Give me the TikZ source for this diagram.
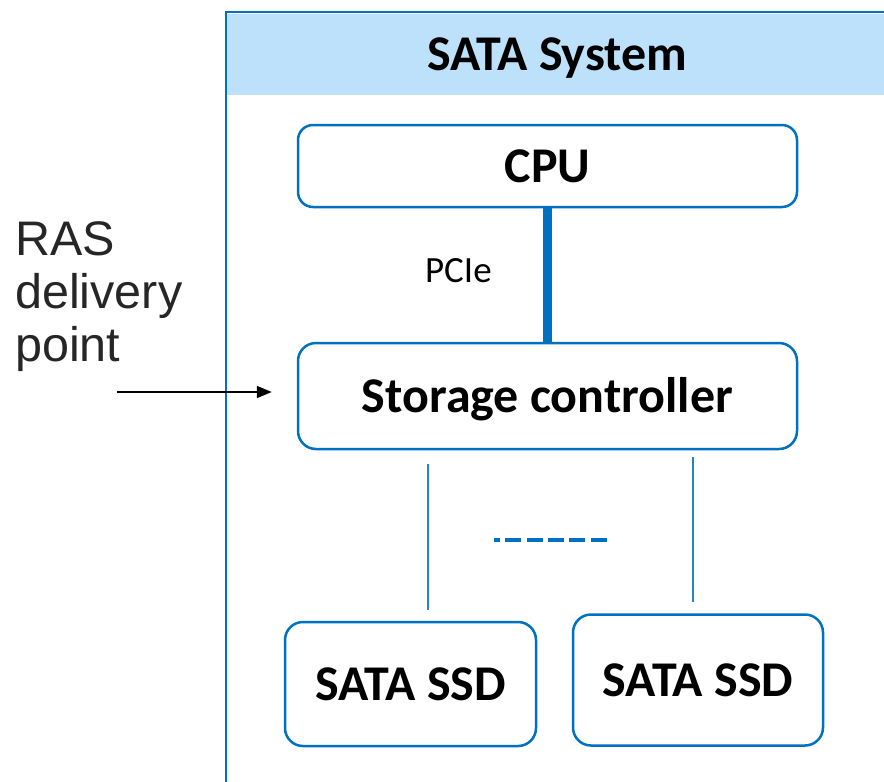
\documentclass[tikz,border=0pt]{standalone}
\usepackage{fontspec}
\setmainfont{Carlito}
\newfontfamily\rasfont{Liberation Sans}
\usetikzlibrary{arrows.meta, positioning}
\definecolor{sysblue}{HTML}{0070C0}
\definecolor{hdrbg}{HTML}{BDE0FB}
\definecolor{inkgray}{HTML}{262626}

\begin{document}
\begin{tikzpicture}[x=1pt, y=-1pt,
    every node/.style={font=\fontsize{50}{54}\selectfont\bfseries},
    unit/.style={rectangle, draw=sysblue, line width=2.5pt, fill=white,
                 rounded corners=18pt, align=center,
                 text height=32.2pt, text depth=0pt},
    hdr/.style={rectangle, fill=hdrbg, minimum width=660pt,
                minimum height=81pt, anchor=west,
                text height=32.2pt, text depth=0pt},
    bus/.style={draw=sysblue, line width=9pt},
    link/.style={draw=sysblue!85, line width=1.8pt},
    dots/.style={draw=sysblue, line width=4.5pt,
                 dash pattern=on 16pt off 5.33pt, dash phase=10pt},
    arr/.style={-{Triangle[length=15pt, width=12pt]}, line width=1.8pt},
    lbl/.style={font=\fontsize{37}{40}\selectfont}
]
    \clip (0,0) rectangle (884,782);

    % system frame and its title bar
    \node[hdr] (title) at (227,54.5) {SATA System};
    \draw[sysblue, line width=2.6pt] (226,12) rectangle (950,950);

    \node[unit, minimum width=499pt, minimum height=82pt, rounded corners=15pt] (cpu) at (547.5,166) {CPU};
    \node[unit, minimum width=499pt, minimum height=106pt] (ctrl) at (547.5,396) {Storage controller};
    \node[unit, minimum width=251pt, minimum height=124pt] (ssda) at (410.5,684) {SATA SSD};
    \node[unit, minimum width=250pt, minimum height=131pt] (ssdb) at (698,680) {SATA SSD};

    \node[font=\rasfont\fontsize{48.5}{53}\selectfont, text=inkgray, align=left,
          anchor=north west, inner sep=0pt] (ras) at (15,221) {RAS\\delivery\\point};

    \coordinate (rasin) at (117,392);
    \coordinate (gapl)  at (494,540);
    \coordinate (gapr)  at (607,540);

    \draw[bus] (cpu) -- node[lbl, left=48pt, yshift=4pt]{PCIe} (ctrl);
    \draw[link, shorten <=14pt, shorten >=11pt] ([xshift=-119.5pt]ctrl.south) -- ([xshift=17.5pt]ssda.north);
    \draw[link, shorten <=7pt, shorten >=11pt] ([xshift=145.5pt]ctrl.south) -- ([xshift=-5pt]ssdb.north);
    \draw[dots] (gapl) -- (gapr);
    \draw[arr] (rasin) -- ([xshift=-25pt, yshift=4pt]ctrl.west);
\end{tikzpicture}
\end{document}
